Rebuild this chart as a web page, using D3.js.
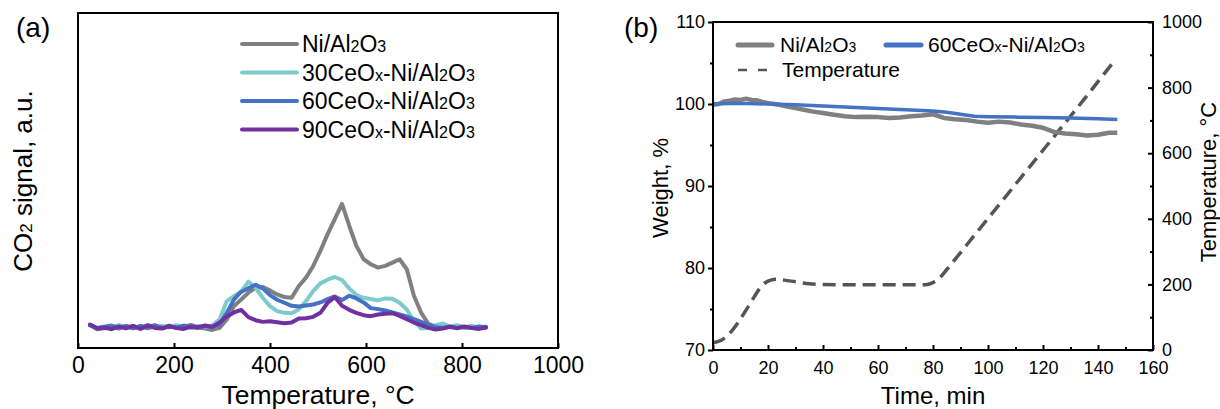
<!DOCTYPE html>
<html>
<head>
<meta charset="utf-8">
<script src="https://cdn.jsdelivr.net/npm/d3@7"></script>
<style>
  body { margin: 0; background: #fff; }
  text { font-family: "Liberation Sans", Arial, sans-serif; fill: #000; }
</style>
</head>
<body>
<svg id="chart" width="1220" height="409"></svg>
<script>
// ---- panel (a): CO2-TPD ----
var tempA = [25, 40, 55, 70, 85, 100, 115, 130, 145, 160, 175, 190, 205, 220, 235, 250, 265, 280, 295, 310,
             325, 340, 355, 370, 385, 400, 415, 430, 445, 460, 475, 490, 505, 520, 535, 550, 565, 580, 595, 610,
             625, 640, 655, 670, 685, 700, 715, 730, 745, 760, 775, 790, 805, 820, 835, 850];
var signalNi = [6.8, 5.6, 5.9, 6.3, 5.8, 6.6, 6.0, 6.4, 5.9, 6.5, 6.1, 6.7, 6.0, 6.3, 6.9, 6.2, 5.8, 5.4, 6.0, 8.5,
                12.5, 14.5, 16.5, 18.0, 18.2, 17.2, 16.0, 15.2, 15.0, 18.5, 21.0, 24.5, 29.0, 34.0, 38.5, 43.0, 36.5, 30.5, 26.5, 25.0,
                24.0, 24.5, 25.5, 26.5, 23.5, 15.5, 10.5, 7.2, 6.3, 6.8, 6.2, 6.6, 6.0, 6.4, 5.9, 6.2];
var signal30 = [6.9, 5.9, 6.4, 6.0, 6.8, 6.2, 6.5, 6.0, 6.7, 6.2, 6.6, 6.1, 6.8, 6.3, 6.0, 6.6, 6.2, 6.8, 8.5, 14.0,
                15.5, 16.8, 19.8, 18.0, 15.0, 12.5, 11.0, 10.5, 10.4, 11.5, 14.0, 17.0, 19.3, 20.4, 21.2, 20.3, 17.8, 15.8, 15.0, 14.6,
                14.2, 14.8, 14.7, 13.5, 11.5, 8.0, 5.8, 6.0, 6.8, 7.3, 6.4, 6.8, 6.2, 6.6, 6.1, 6.4];
var signal60 = [6.8, 6.0, 6.3, 6.7, 6.1, 6.5, 5.9, 6.6, 6.2, 6.8, 6.0, 6.4, 6.1, 6.7, 6.2, 6.0, 6.5, 6.3, 7.0, 10.5,
                14.5, 16.8, 17.8, 18.9, 17.8, 15.8, 14.4, 13.5, 12.6, 12.4, 12.7, 13.0, 13.6, 14.6, 15.4, 14.3, 15.6, 14.8, 13.6, 11.9,
                11.6, 11.2, 10.6, 10.0, 9.4, 8.6, 7.8, 6.9, 6.3, 6.0, 6.4, 5.9, 6.3, 6.0, 6.4, 6.2];
var signal90 = [7.0, 5.8, 6.1, 5.6, 6.4, 5.9, 6.6, 5.7, 6.8, 6.0, 5.8, 6.5, 6.0, 5.7, 6.4, 6.2, 6.7, 6.3, 7.6, 9.4,
                10.6, 11.4, 9.2, 8.3, 7.8, 8.0, 7.7, 7.4, 7.6, 8.8, 8.9, 9.3, 10.5, 13.5, 15.2, 12.6, 11.4, 10.5, 9.8, 9.5,
                10.0, 10.2, 10.4, 9.6, 8.6, 7.6, 6.8, 6.0, 5.5, 5.8, 6.3, 6.0, 6.4, 6.0, 5.7, 6.1];
var namesA = ["Ni/Al_2O_3", "30CeO_x-Ni/Al_2O_3", "60CeO_x-Ni/Al_2O_3", "90CeO_x-Ni/Al_2O_3"];
var colorsA = ["#808080", "#7ecbcc", "#4472c4", "#7030a0"];
var ticksA = [0, 200, 400, 600, 800, 1000];

// ---- panel (b): TGA ----
var timeNi = [0, 2, 4, 6, 8, 10, 12, 14, 16, 18, 21, 24, 27, 30, 33, 36, 40, 44, 48, 52, 56, 60, 64, 68, 72, 76, 80,
              84, 88, 92, 96, 100, 104, 108, 112, 116, 120, 124, 128, 132, 136, 140, 144, 147];
var weightNi = [99.9, 100.0, 100.3, 100.4, 100.55, 100.5, 100.65, 100.5, 100.45, 100.25, 100.05, 99.9, 99.7, 99.5, 99.3, 99.1, 98.9, 98.7, 98.5, 98.4, 98.45, 98.4, 98.3, 98.35, 98.5, 98.6, 98.75,
                98.3, 98.15, 98.05, 97.85, 97.7, 97.85, 97.75, 97.5, 97.35, 97.1, 96.6, 96.4, 96.3, 96.15, 96.25, 96.5, 96.5];
var time60 = [0, 10, 20, 30, 40, 50, 60, 70, 80, 85, 90, 95, 100, 110, 120, 130, 140, 147];
var weight60 = [100.0, 100.1, 100.0, 99.9, 99.75, 99.6, 99.45, 99.3, 99.15, 99.0, 98.75, 98.5, 98.45, 98.4, 98.35, 98.3, 98.2, 98.1];
var timeT = [0, 3, 5, 7, 9, 11, 13, 15, 17, 19, 21, 23, 26, 30, 35, 40, 50, 60, 70, 77, 79, 81, 83, 85, 88,
             95, 105, 115, 125, 135, 145.6];
var tempT = [22, 30, 42, 60, 82, 108, 135, 162, 188, 205, 213, 216, 213, 208, 202, 200, 199, 199, 199, 199, 202, 210, 225, 245, 276,
             349, 453, 557, 661, 765, 878];
var namesB = ["Ni/Al_2O_3", "60CeO_x-Ni/Al_2O_3", "Temperature"];
var ticksTime = [0, 20, 40, 60, 80, 100, 120, 140, 160];
var ticksWeight = [70, 80, 90, 100, 110];
var ticksTemp = [0, 200, 400, 600, 800, 1000];

var svg = d3.select("#chart");
var font = "'Liberation Sans', Arial, sans-serif";

// text with single-character subscripts written as _x
function richText(sel, str, big, small) {
  var parts = str.split("_");
  sel.append("tspan").attr("font-size", big).text(parts[0]);
  parts.slice(1).forEach(function(p) {
    sel.append("tspan").attr("font-size", small).text(p.charAt(0));
    if (p.length > 1) sel.append("tspan").attr("font-size", big).text(p.slice(1));
  });
}

function styleAxis(g, size) {
  g.select(".domain").remove();
  g.selectAll("line").attr("stroke", "#000").attr("stroke-width", 2);
  g.selectAll("text").attr("font-size", size).attr("font-family", font).attr("fill", "#000");
}

// ================= panel (a) =================
var xA = d3.scaleLinear().domain([0, 1000]).range([78, 558]);
var yA = d3.scaleLinear().domain([0, 100]).range([348, 13]);

svg.append("g")
    .attr("transform", "translate(0,348)")
    .call(d3.axisBottom(xA).tickValues(ticksA).tickSize(-5).tickPadding(9).tickFormat(d3.format("d")))
    .call(styleAxis, 23);

var lineA = d3.line()
    .x(function(d) { return xA(d[0]); })
    .y(function(d) { return yA(d[1]); });

[signalNi, signal30, signal60, signal90].forEach(function(s, i) {
  svg.append("path")
      .datum(tempA.map(function(t, j) { return [t, s[j]]; }))
      .attr("fill", "none")
      .attr("stroke", colorsA[i])
      .attr("stroke-width", 4)
      .attr("stroke-linejoin", "round")
      .attr("stroke-linecap", "round")
      .attr("d", lineA);
});

svg.append("rect")
    .attr("x", 78).attr("y", 13)
    .attr("width", 480).attr("height", 335)
    .attr("fill", "none").attr("stroke", "#000").attr("stroke-width", 2);

// legend (a)
var legA = svg.append("g").attr("transform", "translate(242,44)");
namesA.forEach(function(n, i) {
  legA.append("line")
      .attr("x1", 0).attr("x2", 55)
      .attr("y1", i * 28.5).attr("y2", i * 28.5)
      .attr("stroke", colorsA[i]).attr("stroke-width", 4).attr("stroke-linecap", "round");
  legA.append("text")
      .attr("x", 60).attr("y", i * 28.5 + 8)
      .call(richText, n, 23, 16);
});

svg.append("text")
    .attr("transform", "translate(318,404)")
    .attr("text-anchor", "middle")
    .attr("font-size", 26.5)
    .text("Temperature, °C");

svg.append("text")
    .attr("transform", "translate(32,181) rotate(-90)")
    .attr("text-anchor", "middle")
    .call(richText, "CO_2 signal, a.u.", 26, 17);

svg.append("text")
    .attr("x", 16).attr("y", 37)
    .attr("font-size", 28)
    .text("(a)");

// ================= panel (b) =================
var xB = d3.scaleLinear().domain([0, 160]).range([713, 1153]);
var yW = d3.scaleLinear().domain([70, 110]).range([350, 22]);
var yT = d3.scaleLinear().domain([0, 1000]).range([350, 22]);

// minor ticks
svg.append("g")
    .attr("transform", "translate(0,350)")
    .call(d3.axisBottom(xB).tickValues([10, 30, 50, 70, 90, 110, 130, 150]).tickSize(-3).tickFormat(""))
    .call(styleAxis, 18);
svg.append("g")
    .attr("transform", "translate(713,0)")
    .call(d3.axisLeft(yW).tickValues([75, 85, 95, 105]).tickSize(3).tickFormat(""))
    .call(styleAxis, 18);
svg.append("g")
    .attr("transform", "translate(1153,0)")
    .call(d3.axisRight(yT).tickValues([100, 300, 500, 700, 900]).tickSize(-3).tickFormat(""))
    .call(styleAxis, 18);

svg.append("g")
    .attr("transform", "translate(0,350)")
    .call(d3.axisBottom(xB).tickValues(ticksTime).tickSize(-5).tickPadding(11).tickFormat(d3.format("d")))
    .call(styleAxis, 18);
svg.append("g")
    .attr("transform", "translate(713,0)")
    .call(d3.axisLeft(yW).tickValues(ticksWeight).tickSize(5).tickPadding(3).tickFormat(d3.format("d")))
    .call(styleAxis, 18);
svg.append("g")
    .attr("transform", "translate(1153,0)")
    .call(d3.axisRight(yT).tickValues(ticksTemp).tickSize(-5).tickPadding(9).tickFormat(d3.format("d")))
    .call(styleAxis, 18);

var lineW = d3.line()
    .x(function(d) { return xB(d[0]); })
    .y(function(d) { return yW(d[1]); });
var lineT = d3.line()
    .curve(d3.curveMonotoneX)
    .x(function(d) { return xB(d[0]); })
    .y(function(d) { return yT(d[1]); });

svg.append("path")
    .datum(timeT.map(function(t, j) { return [t, tempT[j]]; }))
    .attr("fill", "none")
    .attr("stroke", "#555")
    .attr("stroke-width", 3.5)
    .attr("stroke-dasharray", "13,7")
    .attr("d", lineT);

svg.append("path")
    .datum(timeNi.map(function(t, j) { return [t, weightNi[j]]; }))
    .attr("fill", "none")
    .attr("stroke", "#808080")
    .attr("stroke-width", 4.5)
    .attr("stroke-linejoin", "round")
    .attr("d", lineW);

svg.append("path")
    .datum(time60.map(function(t, j) { return [t, weight60[j]]; }))
    .attr("fill", "none")
    .attr("stroke", "#4472c4")
    .attr("stroke-width", 3.5)
    .attr("stroke-linejoin", "round")
    .attr("d", lineW);

svg.append("rect")
    .attr("x", 713).attr("y", 22)
    .attr("width", 440).attr("height", 328)
    .attr("fill", "none").attr("stroke", "#000").attr("stroke-width", 2);

// legend (b)
var legB = svg.append("g");
legB.append("line")
    .attr("x1", 738).attr("x2", 772).attr("y1", 45).attr("y2", 45)
    .attr("stroke", "#808080").attr("stroke-width", 5).attr("stroke-linecap", "round");
legB.append("text").attr("x", 780).attr("y", 52).call(richText, namesB[0], 21, 14);
legB.append("line")
    .attr("x1", 886).attr("x2", 921).attr("y1", 45).attr("y2", 45)
    .attr("stroke", "#4472c4").attr("stroke-width", 5).attr("stroke-linecap", "round");
legB.append("text").attr("x", 928).attr("y", 52).call(richText, namesB[1], 21, 14);
legB.append("line")
    .attr("x1", 738).attr("x2", 767).attr("y1", 70).attr("y2", 70)
    .attr("stroke", "#555").attr("stroke-width", 2.5).attr("stroke-dasharray", "9,11");
legB.append("text").attr("x", 782).attr("y", 77).attr("font-size", 21).text(namesB[2]);

svg.append("text")
    .attr("transform", "translate(933,404)")
    .attr("text-anchor", "middle")
    .attr("font-size", 24)
    .text("Time, min");

svg.append("text")
    .attr("transform", "translate(668,188) rotate(-90)")
    .attr("text-anchor", "middle")
    .attr("font-size", 22)
    .text("Weight, %");

svg.append("text")
    .attr("transform", "translate(1216,182) rotate(-90)")
    .attr("text-anchor", "middle")
    .attr("font-size", 22)
    .text("Temperature, °C");

svg.append("text")
    .attr("x", 624).attr("y", 37)
    .attr("font-size", 28)
    .text("(b)");
</script>
</body>
</html>
